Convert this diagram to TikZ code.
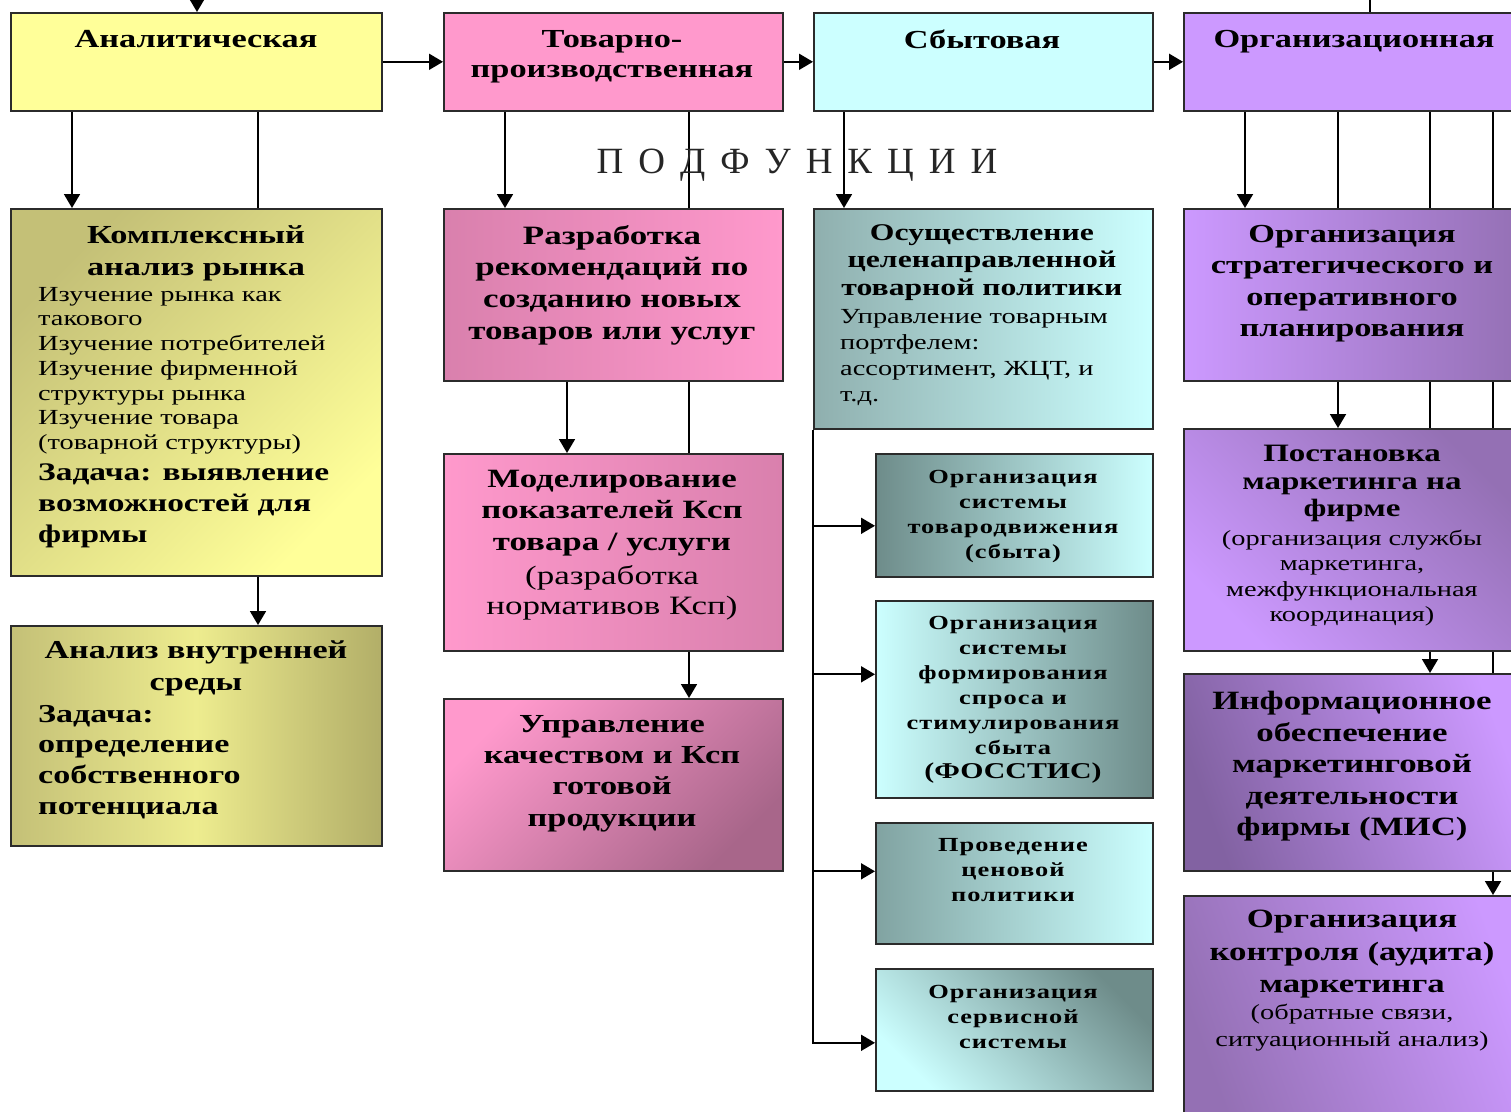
\documentclass[tikz,border=0pt]{standalone}
\usepackage{fontspec}
\setmainfont{Liberation Serif}[FakeStretch=1.32]
\newfontfamily\spacedserif{Liberation Serif}[LetterSpace=5,FakeStretch=1.32]
\newfontfamily\plainserif{Liberation Serif}
\usetikzlibrary{arrows.meta,backgrounds}

\definecolor{boxline}{HTML}{2B2B2B}
\definecolor{yelA}{HTML}{FFFF99}
\definecolor{olive}{HTML}{C4C077}
\definecolor{olivedk}{HTML}{B2AE68}
\definecolor{pinkT}{HTML}{FF99CC}
\definecolor{pinkdk}{HTML}{D980AD}
\definecolor{mauve}{HTML}{A8668A}
\definecolor{cyanS}{HTML}{CCFFFF}
\definecolor{tealmd}{HTML}{8FAFAE}
\definecolor{tealdk}{HTML}{6E8C8A}
\definecolor{lilac}{HTML}{CC99FF}
\definecolor{purpmd}{HTML}{9470B4}
\definecolor{purpdk}{HTML}{8262A2}

\newcommand\fsize[2]{\fontsize{#1}{#2}\selectfont}
\newcommand\gap{\hspace{15pt}}

\tikzset{
  box/.style={draw=boxline, line width=1.6pt, anchor=north west, inner sep=0pt},
  ttl/.style={align=center, inner sep=0pt, anchor=north, font=\bfseries},
  txt/.style={align=left, inner sep=0pt, anchor=north west},
  arr/.style={line width=1.8pt, -{Triangle[width=16pt,length=14pt]}},
  ln/.style={line width=1.8pt}
}

\begin{document}
\begin{tikzpicture}[x=1pt,y=-1pt]
\useasboundingbox (0,0) rectangle (1511,1111);
\clip (0,0) rectangle (1511,1111);

% functions
\node[box, fill=yelA, minimum width=371, minimum height=98] (an) at (10,12) {};
\node[box, fill=pinkT, minimum width=339, minimum height=98] (tov) at (443,12) {};
\node[box, fill=cyanS, minimum width=339, minimum height=98] (sbyt) at (813,12) {};
\node[box, fill=lilac, minimum width=340, minimum height=98] (org) at (1183,12) {};
\node[ttl, font=\bfseries\fsize{26}{30}] (an-t) at (196,30) {Аналитическая};
\node[ttl, font=\bfseries\fsize{26}{30}] (tov-t) at (612,30) {Товарно-\\производственная};
\node[ttl, font=\bfseries\fsize{26}{30}] (sbyt-t) at (982,30) {Сбытовая};
\node[ttl, font=\bfseries\fsize{26}{30}] (org-t) at (1354,30) {Организационная};

\node[inner sep=0pt, anchor=north, text=black!85, font=\plainserif\fsize{37}{40}] (podf) at (797,149)
  {П\gap О\gap Д\gap Ф\gap У\gap Н\gap К\gap Ц\gap И\gap И};

% analytical
\node[box, top color=olive, bottom color=yelA, shading angle=45, minimum width=371, minimum height=367] (k1) at (10,208) {};
\node[ttl, font=\bfseries\fsize{26}{32}] (k1-t) at (196,225) {Комплексный\\анализ рынка};
\node[txt, font=\fsize{21.5}{24.7}] (k1-l) at (38,287) {Изучение рынка как\\такового\\Изучение потребителей\\Изучение фирменной\\структуры рынка\\Изучение товара\\(товарной структуры)};
\node[txt, font=\bfseries\fsize{25.3}{31}] (k1-z) at (38,464) {Задача: выявление\\возможностей для\\фирмы};

\node[box, left color=olive, right color=olivedk, middle color=yelA!70!olive, minimum width=371, minimum height=220] (k2) at (10,625) {};
\node[ttl, font=\bfseries\fsize{25.8}{32}] (k2-t) at (196,641) {Анализ внутренней\\среды};
\node[txt, font=\bfseries\fsize{25.8}{30.7}] (k2-z) at (38,705) {Задача:\\определение\\собственного\\потенциала};

% production
\node[box, left color=pinkdk, right color=pinkT, minimum width=339, minimum height=172] (r1) at (443,208) {};
\node[ttl, font=\bfseries\fsize{26.5}{31.7}] (r1-t) at (612,225) {Разработка\\рекомендаций по\\созданию новых\\товаров или услуг};
\node[box, left color=pinkT, right color=pinkdk, minimum width=339, minimum height=197] (r2) at (443,453) {};
\node[ttl, font=\bfseries\fsize{26.4}{31.5}] (r2-t) at (612,470) {Моделирование\\показателей Ксп\\товара / услуги};
\node[ttl, font=\fsize{26.5}{30}] (r2-n) at (612,565) {(разработка\\нормативов Ксп)};
\node[box, top color=pinkT, bottom color=mauve, shading angle=45, minimum width=339, minimum height=172] (r3) at (443,698) {};
\node[ttl, font=\bfseries\fsize{26}{31.3}] (r3-t) at (612,715) {Управление\\качеством и Ксп\\готовой\\продукции};

% sales
\node[box, left color=tealmd, right color=cyanS, minimum width=339, minimum height=220] (c1) at (813,208) {};
\node[ttl, font=\bfseries\fsize{24}{27.5}] (c1-t) at (982,224) {Осуществление\\целенаправленной\\товарной политики};
\node[txt, font=\fsize{21.5}{26}] (c1-l) at (840,309) {Управление товарным\\портфелем:\\ассортимент, ЖЦТ, и\\т.д.};
\node[box, left color=tealdk, right color=cyanS, minimum width=277, minimum height=123] (c2) at (875,453) {};
\node[ttl, font=\spacedserif\bfseries\fsize{20}{25}] (c2-t) at (1013,470) {Организация\\системы\\товародвижения\\(сбыта)};
\node[box, left color=cyanS, right color=tealdk, minimum width=277, minimum height=197] (c3) at (875,600) {};
\node[ttl, font=\spacedserif\bfseries\fsize{20}{25}] (c3-t) at (1013,616) {Организация\\системы\\формирования\\спроса и\\стимулирования\\сбыта};
\node[ttl, font=\bfseries\fsize{22.6}{26}] (c3-f) at (1013,763) {(ФОССТИС)};
\node[box, left color=tealdk!80!cyanS, right color=cyanS, minimum width=277, minimum height=121] (c4) at (875,822) {};
\node[ttl, font=\spacedserif\bfseries\fsize{20}{25}] (c4-t) at (1013,838) {Проведение\\ценовой\\политики};
\node[box, top color=tealdk, bottom color=cyanS, shading angle=-45, minimum width=277, minimum height=122] (c5) at (875,968) {};
\node[ttl, font=\spacedserif\bfseries\fsize{20}{25}] (c5-t) at (1013,985) {Организация\\сервисной\\системы};

% organisation
\node[box, left color=lilac, right color=purpmd, minimum width=340, minimum height=172] (p1) at (1183,208) {};
\node[ttl, font=\bfseries\fsize{26}{31.3}] (p1-t) at (1352,225) {Организация\\стратегического и\\оперативного\\планирования};
\node[box, top color=purpmd, bottom color=lilac, shading angle=-45, minimum width=340, minimum height=222] (p2) at (1183,428) {};
\node[ttl, font=\bfseries\fsize{25}{27.5}] (p2-t) at (1352,445) {Постановка\\маркетинга на\\фирме};
\node[ttl, font=\fsize{21.5}{25.3}] (p2-n) at (1352,530) {(организация службы\\маркетинга,\\межфункциональная\\координация)};
\node[box, top color=lilac, bottom color=purpdk, shading angle=-70, minimum width=340, minimum height=197] (p3) at (1183,673) {};
\node[ttl, font=\bfseries\fsize{26.4}{31.5}] (p3-t) at (1352,691) {Информационное\\обеспечение\\маркетинговой\\деятельности\\фирмы (МИС)};
\node[box, top color=lilac, bottom color=purpmd, shading angle=-70, minimum width=340, minimum height=230] (p4) at (1183,895) {};
\node[ttl, font=\bfseries\fsize{26.4}{32.5}] (p4-t) at (1352,910) {Организация\\контроля (аудита)\\маркетинга};
\node[ttl, font=\fsize{21.5}{27}] (p4-n) at (1352,1004) {(обратные связи,\\ситуационный анализ)};

\coordinate (in-an) at (197,-10);
\coordinate (in-org) at (1370,-10);

\begin{scope}[on background layer]
  \draw[arr] (in-an) -- (in-an |- an.north);
  \draw[ln] (in-org) -- (in-org |- org.north);
  \draw[arr] (an.east) -- (tov.west);
  \draw[arr] (tov.east) -- (sbyt.west);
  \draw[arr] (sbyt.east) -- (org.west);
  % analytical
  \draw[arr] ([xshift=62]an.south west) -- ([xshift=62]k1.north west);
  \draw[arr] ([xshift=248]an.south west) -- ([xshift=248]k2.north west);
  % production
  \draw[arr] ([xshift=62]tov.south west) -- ([xshift=62]r1.north west);
  \draw[arr] ([xshift=124]r1.south west) -- ([xshift=124]r2.north west);
  \draw[arr] ([xshift=246]tov.south west) -- ([xshift=246]r3.north west);
  % sales
  \draw[arr] ([xshift=31]sbyt.south west) -- ([xshift=31]c1.north west);
  \draw[arr] (c1.south west) |- ([yshift=-13]c5.west);
  \draw[arr] ([yshift=-10.5]c2.west -| c1.south west) -- ([yshift=-10.5]c2.west);
  \draw[arr] ([yshift=25]c3.west -| c1.south west) -- ([yshift=25]c3.west);
  \draw[arr] ([yshift=12]c4.west -| c1.south west) -- ([yshift=12]c4.west);
  % organisation
  \draw[arr] ([xshift=62]org.south west) -- ([xshift=62]p1.north west);
  \draw[arr] ([xshift=155]org.south west) -- ([xshift=155]p2.north west);
  \draw[arr] ([xshift=247]org.south west) -- ([xshift=247]p3.north west);
  \draw[arr] ([xshift=310]org.south west) -- ([xshift=310]p4.north west);
\end{scope}
\end{tikzpicture}
\end{document}
